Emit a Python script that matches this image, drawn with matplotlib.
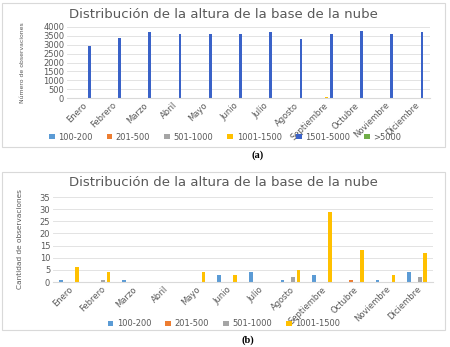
import numpy as np
import matplotlib
matplotlib.use("Agg")
import matplotlib.pyplot as plt
from matplotlib.patches import Rectangle

meses = ['Enero', 'Febrero', 'Marzo', 'Abril', 'Mayo', 'Junio', 'Julio',
         'Agosto', 'Septiembre', 'Octubre', 'Noviembre', 'Diciembre']

# observaciones por rango de altura (m)
r100_200 = [1, 0, 1, 0, 0, 3, 4, 1, 3, 0, 1, 4]
r201_500 = [0, 0, 0, 0, 0, 0, 0, 0, 0, 1, 0, 0]
r501_1000 = [0, 1, 0, 0, 0, 0, 0, 2, 0, 0, 0, 2]
r1001_1500 = [6, 4, 0, 0, 4, 3, 0, 5, 29, 13, 3, 12]
r1501_5000 = [2950, 3380, 3700, 3580, 3630, 3580, 3720, 3330, 3600, 3750, 3630, 3720]
r5000 = [0, 0, 0, 0, 0, 0, 0, 0, 0, 0, 0, 0]

etiquetas = ['100-200', '201-500', '501-1000', '1001-1500', '1501-5000', '>5000']
colores = ['#5B9BD5', '#ED7D31', '#A5A5A5', '#FFC000', '#3A62C8', '#70AD47']
titulo = 'Distribución de la altura de la base de la nube'
gris = '#595959'

W, H = 450, 347
fig = plt.figure(figsize=(4.5, 3.47), dpi=100)


def fx(px):
    return px / W


def fy(py):
    return 1 - py / H


# marcos de los dos graficos
for y0, y1 in [(3, 147), (172, 330)]:
    fig.patches.append(Rectangle((fx(2), fy(y1)), fx(443), (y1 - y0) / H,
                                 transform=fig.transFigure, fill=False,
                                 edgecolor='#d9d9d9', linewidth=0.8))


def panel(ax, series, step, ymax, ylabel, labx, labsize):
    n = len(series)
    x = np.arange(len(meses))
    for k, (vals, lab, col) in enumerate(series):
        ax.bar(x + (k - (n - 1) / 2) * step, vals, width=0.09 if n == 6 else 0.12,
               color=col, label=lab)
    ax.set_xlim(-0.5, len(meses) - 0.5)
    ax.set_ylim(0, ymax)
    ax.set_xticks(x)
    ax.set_xticklabels(meses, rotation=45, ha='right', rotation_mode='anchor',
                       fontsize=5.8, color=gris)
    ax.tick_params(axis='both', length=0, labelsize=6, colors=gris, pad=2)
    ax.grid(axis='y', color='#e3e3e3', linewidth=0.7)
    ax.set_axisbelow(True)
    for s in ['top', 'right', 'left']:
        ax.spines[s].set_visible(False)
    ax.spines['bottom'].set_color('#d9d9d9')
    ax.set_ylabel(ylabel, fontsize=labsize, color=gris)
    ax.yaxis.set_label_coords(labx, 0.5)


# (a)
ax1 = fig.add_axes([fx(67), fy(98), fx(363), 71 / H])
serie_a = list(zip([r100_200, r201_500, r501_1000, r1001_1500, r1501_5000, r5000],
                   etiquetas, colores))
panel(ax1, serie_a, 0.155, 4000, 'Número de observaciones', -0.115, 4.4)
ax1.set_yticks(np.arange(0, 4001, 500))
fig.text(fx(223), fy(14), titulo, ha='center', va='center', fontsize=9.5, color=gris)
h, l = ax1.get_legend_handles_labels()
fig.legend(h, l, loc='center', bbox_to_anchor=(fx(225), fy(137)), ncol=6,
           frameon=False, fontsize=6, handlelength=0.7, handleheight=0.6,
           columnspacing=1.7, handletextpad=0.4, labelcolor=gris)
fig.text(fx(258), fy(155), '(a)', ha='center', va='center', fontsize=7.5,
         fontweight='bold', family='Liberation Serif')

# (b)
ax2 = fig.add_axes([fx(53), fy(282), fx(380), 85 / H])
serie_b = list(zip([r100_200, r201_500, r501_1000, r1001_1500],
                   etiquetas[:4], colores[:4]))
panel(ax2, serie_b, 0.168, 35, 'Cantidad de observaciones', -0.08, 5.3)
ax2.set_yticks(np.arange(0, 36, 5))
fig.text(fx(223), fy(182), titulo, ha='center', va='center', fontsize=9.5, color=gris)
h, l = ax2.get_legend_handles_labels()
fig.legend(h, l, loc='center', bbox_to_anchor=(fx(224), fy(324)), ncol=4,
           frameon=False, fontsize=6, handlelength=0.7, handleheight=0.6,
           columnspacing=1.7, handletextpad=0.4, labelcolor=gris)
fig.text(fx(248), fy(340), '(b)', ha='center', va='center', fontsize=7.5,
         fontweight='bold', family='Liberation Serif')

fig.savefig('out.png', dpi=100)
